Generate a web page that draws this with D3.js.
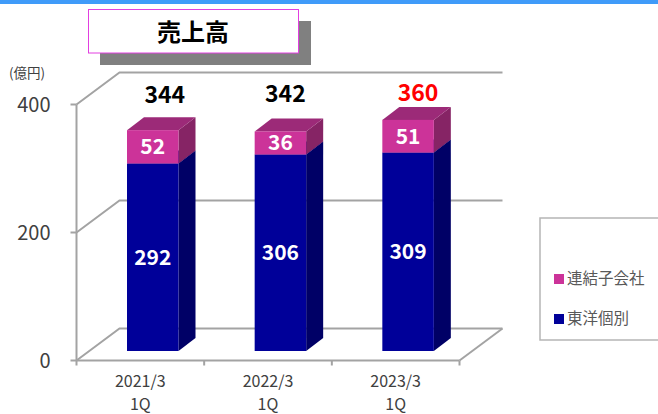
<!DOCTYPE html>
<html><head><meta charset="utf-8">
<script src="https://cdn.jsdelivr.net/npm/d3@7/dist/d3.min.js"></script>
<style>html,body{margin:0;padding:0;background:#fff;overflow:hidden}svg{display:block}text{font-family:"Noto Sans CJK JP","Noto Sans",sans-serif}</style>
</head><body><svg id="c" width="658" height="414"></svg>
<script>
const categories = ["2021/3","2022/3","2023/3"];
const quarter = ["1Q","1Q","1Q"];
const parent = [292,306,309];
const subsidiaries = [52,36,51];
const totals = [344,342,360];
const yTicks = [0,200,400];
const seriesNames = ["連結子会社","東洋個別"];

const svg = d3.select("#c");
const FX0=76.5, FX1=459.5, DX=43, DY=-32;
const x = d3.scaleBand().domain(categories).range([FX0,FX1]);
const y = d3.scaleLinear().domain([0,400]).range([360.5,104.5]);
const yBar = d3.scaleLinear().domain([0,400]).range([351,94.2]);
const grid="#a3a3a3";

svg.append("rect").attr("width",658).attr("height",4).attr("fill","#3f9bf9");

// title
svg.append("rect").attr("x",100).attr("y",21).attr("width",211).attr("height",44).attr("fill","#808080");
svg.append("rect").attr("x",88.5).attr("y",9.5).attr("width",210).attr("height",43.5).attr("fill","#fff").attr("stroke","#e23fe0").attr("stroke-width",1);
svg.append("text").attr("x",193).attr("y",41).attr("text-anchor","middle").attr("font-size",24).attr("font-weight",700).attr("fill","#000").text("売上高");
svg.append("text").attr("x",9).attr("y",78).attr("font-size",13.5).attr("fill","#404040").text("(億円)");

// walls and floor
const g=svg.append("g").attr("fill","none").attr("stroke",grid).attr("stroke-width",2);
yTicks.forEach(t=>{
  const p=d3.path();
  p.moveTo(FX0,y(t)); p.lineTo(FX0+DX,y(t)+DY); p.lineTo(FX1+DX,y(t)+DY);
  g.append("path").attr("d",p.toString());
  g.append("line").attr("x1",FX0-6).attr("x2",FX0).attr("y1",y(t)).attr("y2",y(t));
});
g.append("line").attr("x1",FX0).attr("x2",FX0).attr("y1",y(400)).attr("y2",y(0)+5);
g.append("line").attr("x1",FX0).attr("x2",FX1).attr("y1",y(0)).attr("y2",y(0));
g.append("line").attr("x1",FX1).attr("x2",FX1+DX).attr("y1",y(0)).attr("y2",y(0)+DY);
categories.forEach((c,i)=>{
  g.append("line").attr("x1",x(c)+x.step()).attr("x2",x(c)+x.step()).attr("y1",y(0)).attr("y2",y(0)+5);
});

// y tick labels
svg.append("g").selectAll("text").data(yTicks).join("text")
  .attr("x",50.5).attr("y",d=>y(d)+7).attr("text-anchor","end").attr("font-size",20).attr("fill","#404040").text(d=>d);

// bars
const BW=51.5, bdx=17, bdy=-13, off=50.5;
function box(left,top,bottom,front,topC,side){
  const b=svg.append("g");
  b.append("polygon").attr("points",[[left+BW,bottom],[left+BW+bdx,bottom+bdy],[left+BW+bdx,top+bdy],[left+BW,top]].join(" ")).attr("fill",side);
  b.append("polygon").attr("points",[[left,top],[left+bdx,top+bdy],[left+BW+bdx,top+bdy],[left+BW,top]].join(" ")).attr("fill",topC);
  b.append("rect").attr("x",left).attr("y",top).attr("width",BW).attr("height",bottom-top).attr("fill",front);
}
categories.forEach((c,i)=>{
  const left=x(c)+off;
  box(left,yBar(parent[i]),yBar(0),"#000099","#000080","#000066");
  box(left,yBar(parent[i]+subsidiaries[i]),yBar(parent[i]),"#CC3399","#9c2a78","#862465");
  const cx=left+BW/2;
  const lab=(v,yy)=>svg.append("text").attr("x",cx).attr("y",yy+7.5).attr("text-anchor","middle").attr("font-size",21).attr("font-weight",700).attr("fill","#fff").text(v);
  lab(parent[i],(yBar(parent[i])+yBar(0))/2);
  lab(subsidiaries[i],(yBar(parent[i])+yBar(parent[i]+subsidiaries[i]))/2);
});

// totals
const totalNudge=[[12,-27],[5,-29],[10,-19]];
categories.forEach((c,i)=>{
  svg.append("text").attr("x",x(c)+off+BW/2+totalNudge[i][0]).attr("y",yBar(totals[i])+totalNudge[i][1])
   .attr("text-anchor","middle").attr("font-size",23).attr("font-weight",700).attr("fill",i===2?"#ff0000":"#000").text(totals[i]);
});

// category labels
categories.forEach((c,i)=>{
  const cx=x(c)+x.bandwidth()/2;
  svg.append("text").attr("x",cx).attr("y",387).attr("text-anchor","middle").attr("font-size",16).attr("fill","#404040").text(c);
  svg.append("text").attr("x",cx).attr("y",409.5).attr("text-anchor","middle").attr("font-size",16).attr("fill","#404040").text(quarter[i]);
});

// legend
svg.append("rect").attr("x",540).attr("y",218).attr("width",130).attr("height",122).attr("fill","#fff").attr("stroke","#b5b5b5").attr("stroke-width",1.5);
const legC=["#CC3399","#000099"], legY=[279,319];
seriesNames.forEach((n,i)=>{
  svg.append("rect").attr("x",554).attr("y",legY[i]-5).attr("width",10).attr("height",10).attr("fill",legC[i]);
  svg.append("text").attr("x",567).attr("y",legY[i]+5).attr("font-size",15.5).attr("fill","#595959").text(n);
});
</script></body></html>
